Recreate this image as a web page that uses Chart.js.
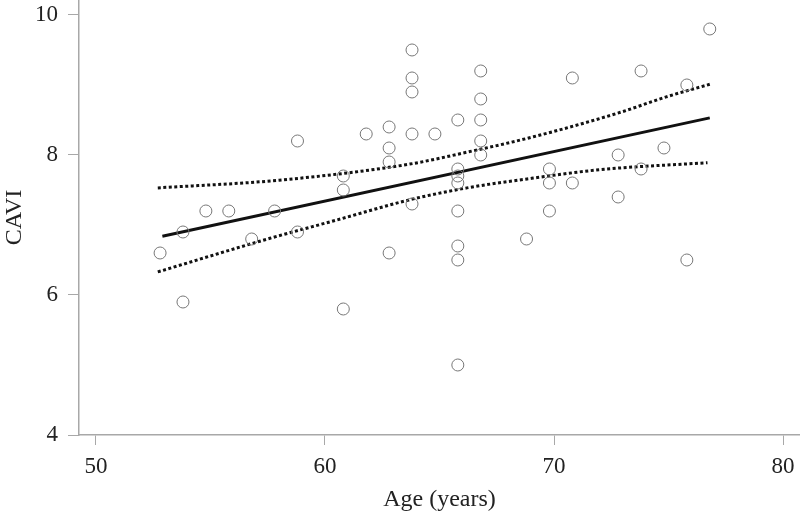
<!DOCTYPE html>
<html>
<head>
<meta charset="utf-8">
<script src="https://cdn.jsdelivr.net/npm/chart.js@4"></script>
<style>
  html, body { margin: 0; padding: 0; background: #fff; }
  #wrap { width: 800px; height: 514px; }
</style>
</head>
<body>
<div id="wrap"><canvas id="myChart" width="800" height="514"></canvas></div>
<script>
// scatter data (age in years, CAVI)
const ages = [52.8, 53.8, 53.8, 54.8, 55.8, 56.8, 57.8, 58.8, 58.8, 60.8,
              60.8, 60.8, 61.8, 62.8, 62.8, 62.8, 62.8, 63.8, 63.8, 63.8,
              63.8, 63.8, 64.8, 65.8, 65.8, 65.8, 65.8, 65.8, 65.8, 65.8,
              65.8, 66.8, 66.8, 66.8, 66.8, 66.8, 68.8, 69.8, 69.8, 69.8,
              70.8, 70.8, 72.8, 72.8, 73.8, 73.8, 74.8, 75.8, 75.8, 76.8];
const cavi = [6.6, 6.9, 5.9, 7.2, 7.2, 6.8, 7.2, 8.2, 6.9, 7.7,
              7.5, 5.8, 8.3, 8.4, 8.1, 7.9, 6.6, 9.5, 9.1, 8.9,
              8.3, 7.3, 8.3, 8.5, 7.8, 7.7, 7.6, 7.2, 6.7, 6.5,
              5.0, 9.2, 8.8, 8.5, 8.2, 8.0, 6.8, 7.8, 7.6, 7.2,
              9.1, 7.6, 8.0, 7.4, 9.2, 7.8, 8.1, 9.0, 6.5, 9.8];

// regression line (ends) and the dotted band
const fitX = [52.9, 76.8];
const fitY = [6.84, 8.53];
const upperX = [52.7, 58.0, 63.7, 66.2, 69.1, 72.9, 74.9, 76.8];
const upperY = [7.53, 7.64, 7.87, 8.04, 8.26, 8.61, 8.83, 9.01];
const lowerX = [52.7, 57.6, 60.5, 63.7, 66.2, 69.1, 72.0, 76.7];
const lowerY = [6.33, 6.81, 7.07, 7.36, 7.53, 7.67, 7.79, 7.89];

const xTicks = [50, 60, 70, 80];
const yTicks = [4, 6, 8, 10];

function pairs(xs, ys){
    return xs.map((x, i) => ({x: x, y: ys[i]}));
}

const serif = "'Liberation Serif', 'DejaVu Serif', serif";
const axisGrey = '#a8a8a8';
const textCol = '#222';

const ctx = document.getElementById('myChart');
const myChart = new Chart(ctx, {
    type: 'scatter',
    data: {
        datasets: [{
            label: 'CAVI',
            data: pairs(ages, cavi),
            pointStyle: 'circle',
            pointRadius: 6,
            pointBorderWidth: 1,
            pointBorderColor: '#777',
            pointBackgroundColor: 'rgba(255,255,255,0)',
            showLine: false
        }, {
            label: 'fit',
            type: 'line',
            data: pairs(fitX, fitY),
            borderColor: '#111',
            borderWidth: 3,
            pointRadius: 0,
            fill: false
        }, {
            label: 'upper',
            type: 'line',
            data: pairs(upperX, upperY),
            borderColor: '#111',
            borderWidth: 3,
            borderDash: [3, 2.5],
            cubicInterpolationMode: 'monotone',
            pointRadius: 0,
            fill: false
        }, {
            label: 'lower',
            type: 'line',
            data: pairs(lowerX, lowerY),
            borderColor: '#111',
            borderWidth: 3,
            borderDash: [3, 2.5],
            cubicInterpolationMode: 'monotone',
            pointRadius: 0,
            fill: false
        }]
    },
    options: {
        responsive: false,
        animation: false,
        layout: { padding: 0, autoPadding: false },
        plugins: {
            legend: { display: false },
            tooltip: { enabled: false }
        },
        scales: {
            x: {
                type: 'linear',
                min: 49.26,
                max: 80.74,
                afterFit: function(scale){
                    scale.height = 79;
                    scale.paddingLeft = 0;
                    scale.paddingRight = 0;
                },
                afterBuildTicks: function(scale){
                    scale.ticks = xTicks.map(v => ({value: v}));
                },
                grid: { drawOnChartArea: false, drawTicks: true, tickLength: 10, color: axisGrey },
                border: { color: axisGrey, width: 1.5 },
                ticks: { color: textCol, padding: 8, maxRotation: 0, font: { family: serif, size: 23 } },
                title: {
                    display: true,
                    text: 'Age (years)',
                    color: textCol,
                    padding: { top: 0, bottom: 0 },
                    font: { family: serif, size: 24 }
                }
            },
            y: {
                type: 'linear',
                min: 4,
                max: 10.214,
                afterFit: function(scale){
                    scale.width = 79;
                    scale.paddingTop = 0;
                    scale.paddingBottom = 0;
                },
                afterBuildTicks: function(scale){
                    scale.ticks = yTicks.map(v => ({value: v}));
                },
                grid: { drawOnChartArea: false, drawTicks: true, tickLength: 11, color: axisGrey },
                border: { color: axisGrey, width: 1.5 },
                ticks: { color: textCol, padding: 10, font: { family: serif, size: 23 } },
                title: {
                    display: true,
                    text: 'CAVI',
                    color: textCol,
                    padding: { top: 0, bottom: 0 },
                    font: { family: serif, size: 24 }
                }
            }
        }
    }
});
</script>
</body>
</html>
